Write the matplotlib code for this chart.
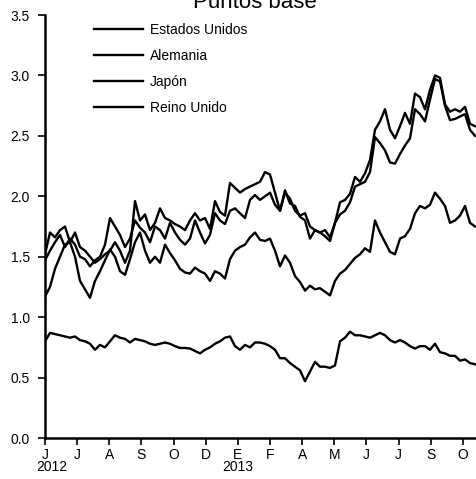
import numpy as np
import matplotlib
matplotlib.use('Agg')
import matplotlib.pyplot as plt

plt.rcParams['font.family'] = ['Liberation Sans', 'DejaVu Sans']

# weekly-ish samples, June 2012 -> October 2013
estados_unidos = [1.47, 1.55, 1.62, 1.68, 1.58, 1.65, 1.60, 1.50, 1.48, 1.42,
                  1.47, 1.50, 1.60, 1.82, 1.75, 1.68, 1.58, 1.65, 1.80, 1.74,
                  1.70, 1.62, 1.75, 1.72, 1.65, 1.78, 1.70, 1.64, 1.60, 1.65,
                  1.80, 1.70, 1.61, 1.68, 1.86, 1.80, 1.77, 1.88, 1.90, 1.86,
                  1.82, 1.97, 2.01, 1.97, 2.00, 2.03, 1.93, 1.88, 2.05, 1.94,
                  1.92, 1.83, 1.80, 1.65, 1.72, 1.70, 1.67, 1.63, 1.78, 1.85,
                  1.88, 1.95, 2.08, 2.10, 2.12, 2.20, 2.49, 2.44, 2.38, 2.28,
                  2.27, 2.35, 2.42, 2.48, 2.72, 2.68, 2.62, 2.80, 2.97, 2.95,
                  2.75, 2.63, 2.64, 2.66, 2.68, 2.55, 2.50]
alemania = [1.17, 1.25, 1.40, 1.50, 1.60, 1.62, 1.50, 1.30, 1.23, 1.16,
            1.30, 1.38, 1.47, 1.56, 1.50, 1.38, 1.35, 1.48, 1.62, 1.70,
            1.55, 1.45, 1.50, 1.45, 1.60, 1.53, 1.47, 1.40, 1.37, 1.36,
            1.41, 1.38, 1.36, 1.30, 1.38, 1.36, 1.32, 1.48, 1.55, 1.58,
            1.60, 1.66, 1.70, 1.64, 1.63, 1.65, 1.55, 1.42, 1.51, 1.45,
            1.34, 1.29, 1.22, 1.26, 1.23, 1.24, 1.21, 1.18, 1.30, 1.36,
            1.39, 1.44, 1.49, 1.52, 1.57, 1.54, 1.80, 1.70, 1.62, 1.54,
            1.52, 1.65, 1.67, 1.73, 1.86, 1.92, 1.90, 1.93, 2.03, 1.98,
            1.92, 1.78, 1.80, 1.84, 1.92, 1.78, 1.75]
japon = [0.80, 0.87, 0.86, 0.85, 0.84, 0.83, 0.84, 0.81, 0.80, 0.78,
         0.73, 0.77, 0.75, 0.80, 0.85, 0.83, 0.82, 0.79, 0.82, 0.81,
         0.80, 0.78, 0.77, 0.78, 0.79, 0.78, 0.76, 0.745, 0.745, 0.74,
         0.72, 0.70, 0.73, 0.75, 0.78, 0.80, 0.83, 0.84, 0.76, 0.73,
         0.77, 0.75, 0.79, 0.79, 0.78, 0.76, 0.73, 0.66, 0.66, 0.62,
         0.59, 0.56, 0.47, 0.55, 0.63, 0.59, 0.59, 0.58, 0.60, 0.80,
         0.83, 0.88, 0.85, 0.85, 0.84, 0.83, 0.85, 0.87, 0.85, 0.81,
         0.79, 0.81, 0.79, 0.76, 0.74, 0.76, 0.76, 0.73, 0.78, 0.71,
         0.70, 0.68, 0.68, 0.64, 0.65, 0.62, 0.61]
reino_unido = [1.52, 1.70, 1.66, 1.72, 1.75, 1.62, 1.70, 1.58, 1.55, 1.50,
               1.45, 1.48, 1.52, 1.55, 1.62, 1.55, 1.45, 1.55, 1.96, 1.80,
               1.85, 1.72, 1.78, 1.90, 1.82, 1.80, 1.77, 1.75, 1.72, 1.80,
               1.86, 1.80, 1.82, 1.73, 1.96, 1.87, 1.84, 2.11, 2.07, 2.03,
               2.06, 2.08, 2.10, 2.12, 2.20, 2.18, 2.03, 1.88, 2.03, 1.98,
               1.88, 1.84, 1.86, 1.75, 1.72, 1.70, 1.72, 1.66, 1.78, 1.95,
               1.97, 2.02, 2.16, 2.12, 2.19, 2.30, 2.55, 2.62, 2.72, 2.55,
               2.48, 2.58, 2.69, 2.60, 2.85, 2.82, 2.72, 2.88, 3.00, 2.98,
               2.76, 2.70, 2.72, 2.70, 2.74, 2.60, 2.58]

month_labels = ['J', 'J', 'A', 'S', 'O', 'D', 'E', 'F', 'A', 'M', 'J', 'J', 'S', 'O']
years = ['2012', '2013']

x = np.arange(len(japon))
step = 6.43  # samples between month ticks
tick_pos = np.arange(len(month_labels)) * step

fig = plt.figure(figsize=(4.77, 4.79), dpi=100)
ax = fig.add_axes([45 / 477, 1 - 438 / 479, 432 / 477, 423 / 479])

series = [('Estados Unidos', estados_unidos), ('Alemania', alemania),
          ('Japón', japon), ('Reino Unido', reino_unido)]
for name, vals in series:
    ax.plot(x, vals, color='black', lw=1.7, label=name)

ax.set_xlim(0, 86.4)
ax.set_ylim(0, 3.5)
ax.set_yticks(np.arange(0, 3.51, 0.5))
ax.set_yticklabels([f'{v:.1f}' for v in np.arange(0, 3.51, 0.5)])
ax.set_xticks(tick_pos)
ax.set_xticklabels(month_labels)
ax.tick_params(axis='both', direction='out', length=5, width=1.2, labelsize=10, colors='black')
ax.tick_params(axis='y', pad=6)
ax.tick_params(axis='x', pad=2)
for s in ['top', 'right']:
    ax.spines[s].set_visible(False)
for s in ['left', 'bottom']:
    ax.spines[s].set_linewidth(1.8)

# year labels under first and January ticks
ax.annotate(years[0], (tick_pos[0], 0), xytext=(5, -16), textcoords='offset points',
            xycoords=('data', 'axes fraction'), ha='center', va='top', fontsize=10)
ax.annotate(years[1], (tick_pos[6], 0), xytext=(0, -16), textcoords='offset points',
            xycoords=('data', 'axes fraction'), ha='center', va='top', fontsize=10)

ax.legend(loc='upper left', bbox_to_anchor=(0.085, 1.01), frameon=False, fontsize=10,
          handlelength=3.5, handletextpad=0.5, labelspacing=0.85)

fig.text(0.535, 1 - 8 / 479, 'Puntos base', ha='center', va='baseline', fontsize=16)

plt.savefig('out.png', dpi=100)
